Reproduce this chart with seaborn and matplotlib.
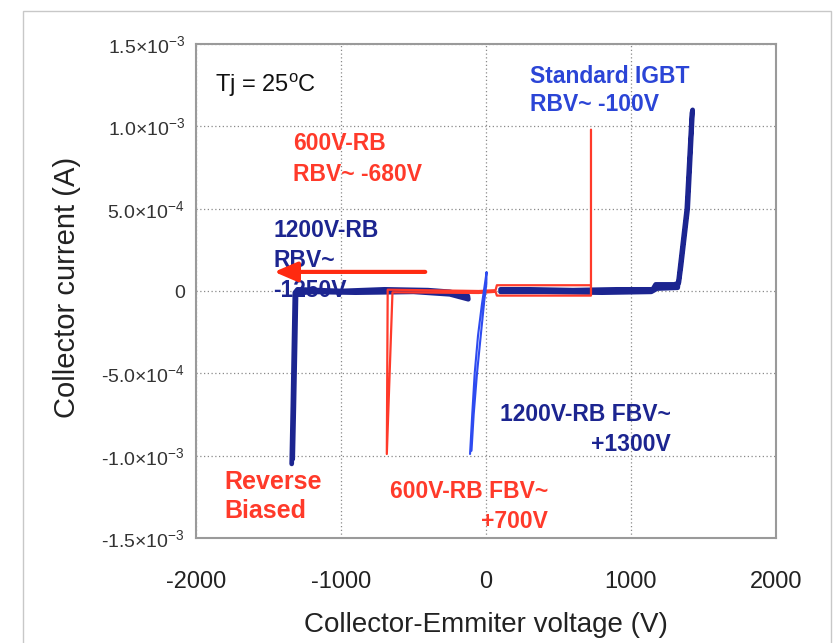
import matplotlib
matplotlib.use("Agg")
import matplotlib.pyplot as plt
import seaborn as sns
import pandas as pd
from matplotlib.patches import Rectangle

# --- datos (V, A) ---
rb1200_left_v = [-1340, -1332, -1324, -1318, -1300, -1000, -700, -400, -250, -125, -122,
                 -250, -500, -900, -1200, -1310, -1316, -1325, -1333]
rb1200_left_i = [-1.05e-3, -7e-4, -3e-4, -1e-5, 1e-5, 0, 1e-5, 5e-6, -5e-6, -3e-5, -5e-5,
                 -2e-5, -5e-6, -1e-5, -5e-6, -1.5e-5, -3e-4, -7e-4, -1.02e-3]
rb1200_right_v = [100, 300, 600, 900, 1150, 1170, 1300, 1330, 1345, 1391, 1425,
                  1420, 1385, 1338, 1322, 1180, 1140, 800, 400, 100]
rb1200_right_i = [1e-5, 1e-5, 5e-6, 1e-5, 1e-5, 4e-5, 4e-5, 5e-5, 1.5e-4, 5e-4, 1.1e-3,
                  1.08e-3, 5e-4, 1.4e-4, 2e-5, 1.5e-5, -5e-6, -1e-5, -5e-6, -5e-6]
rb600_v = [724, 724, 75, 66, -50, -678, -684, -645, -50, 66, 75, 724, 724]
rb600_i = [9.8e-4, 3.5e-5, 3.5e-5, 5e-6, 0, 8e-6, -9.9e-4, -8e-6, -1.2e-5, -5e-6,
           -2.8e-5, -2.8e-5, 3.5e-5]
igbt_v = [-110, -95, -78, -55, -28, -8, 4, 2, -12, -35, -62, -85, -100]
igbt_i = [-9.9e-4, -7.5e-4, -5e-4, -2.7e-4, -8e-5, 4e-5, 1.15e-4, 4e-5, -6e-5,
          -2.6e-4, -5e-4, -7.5e-4, -9.7e-4]

xticks = [-2000, -1000, 0, 1000, 2000]
yticks = [-1.5e-3, -1.0e-3, -5e-4, 0, 5e-4, 1.0e-3, 1.5e-3]
ytick_labels = ["-1.5×10$^{-3}$", "-1.0×10$^{-3}$", "-5.0×10$^{-4}$", "0",
                "5.0×10$^{-4}$", "1.0×10$^{-3}$", "1.5×10$^{-3}$"]

NAVY = "#1c2590"
RED = "#ff3a2a"
BLUE = "#2e4bf0"

sns.set_theme(style="white")
plt.rcParams["font.family"] = ["Liberation Sans", "DejaVu Sans"]
plt.rcParams["mathtext.fontset"] = "custom"
plt.rcParams["mathtext.rm"] = "Liberation Sans"
plt.rcParams["mathtext.it"] = "Liberation Sans:italic"
plt.rcParams["mathtext.bf"] = "Liberation Sans:bold"
plt.rcParams["axes.unicode_minus"] = False

fig = plt.figure(figsize=(8.39, 6.43), dpi=100)
ax = fig.add_axes([196 / 839, 1 - 538 / 643, 580 / 839, 494 / 643])

def trace(v, i, color, lw):
    df = pd.DataFrame({"v": v, "i": i})
    sns.lineplot(data=df, x="v", y="i", sort=False, estimator=None, color=color,
                 linewidth=lw, ax=ax, zorder=3)

trace(rb1200_left_v, rb1200_left_i, NAVY, 3.4)
trace(rb1200_right_v, rb1200_right_i, NAVY, 3.4)
trace(rb600_v, rb600_i, RED, 1.6)
trace(igbt_v, igbt_i, BLUE, 1.5)

ax.set_xlim(-2000, 2000)
ax.set_ylim(-1.5e-3, 1.5e-3)
ax.set_xticks(xticks)
ax.set_xticklabels([str(t) for t in xticks])
ax.set_yticks(yticks)
ax.set_yticklabels(ytick_labels)
ax.set_xlabel("")
ax.set_ylabel("")
ax.grid(True, linestyle=(0, (1, 2)), color="#8a8a8a", linewidth=0.9)
ax.tick_params(axis="x", direction="in", length=4, color="#999999", pad=24,
               labelsize=17, labelcolor="#222222")
ax.tick_params(axis="y", direction="in", length=0, pad=8, labelsize=14,
               labelcolor="#333333")
for s in ax.spines.values():
    s.set_color("#9a9a9a")
    s.set_linewidth(1.5)

fig.text(486 / 839, 1 - 625 / 643, "Collector-Emmiter voltage (V)", ha="center",
         va="center", fontsize=20, color="#222222")
fig.text(67 / 839, 1 - 287 / 643, "Collector current (A)", ha="center", va="center",
         rotation=90, fontsize=21, color="#222222")

# anotaciones
kw = dict(transform=ax.transAxes, fontweight="bold", fontsize=16.5, zorder=2)
ax.text(0.033, 0.917, "Tj = 25$^{\\mathrm{o}}$C", transform=ax.transAxes, fontsize=17,
        color="#111111", va="center")
ax.text(0.576, 0.906, "Standard IGBT\nRBV~ -100V", color="#2b45d6", va="center",
        linespacing=1.3, **kw)
ax.text(0.167, 0.767, "600V-RB\nRBV~ -680V", color=RED, va="center",
        linespacing=1.45, **kw)
ax.text(0.133, 0.562, "1200V-RB\nRBV~\n-1250V", color=NAVY, va="center",
        linespacing=1.4, **kw)
ax.text(0.819, 0.219, "1200V-RB FBV~\n+1300V", color=NAVY, va="center", ha="right",
        multialignment="right", linespacing=1.4, **kw)
ax.text(0.607, 0.064, "600V-RB FBV~\n+700V", color=RED, va="center", ha="right",
        multialignment="right", linespacing=1.4, **kw)
ax.text(0.049, 0.084, "Reverse\nBiased", color=RED, va="center", transform=ax.transAxes,
        fontweight="bold", fontsize=18, linespacing=1.3)

ax.annotate("", xy=(-1480, 1.16e-4), xytext=(-400, 1.16e-4),
            arrowprops=dict(arrowstyle="-|>,head_length=0.7,head_width=0.3",
                            color="#ff2a10", lw=3, mutation_scale=20), zorder=4)

# marco exterior
fig.add_artist(Rectangle((23 / 839, -0.05), (831 - 23) / 839, 1.05 - 11 / 643,
                         transform=fig.transFigure, fill=False, edgecolor="#c8c8c8",
                         linewidth=1))

fig.savefig("out.png", dpi=100)
